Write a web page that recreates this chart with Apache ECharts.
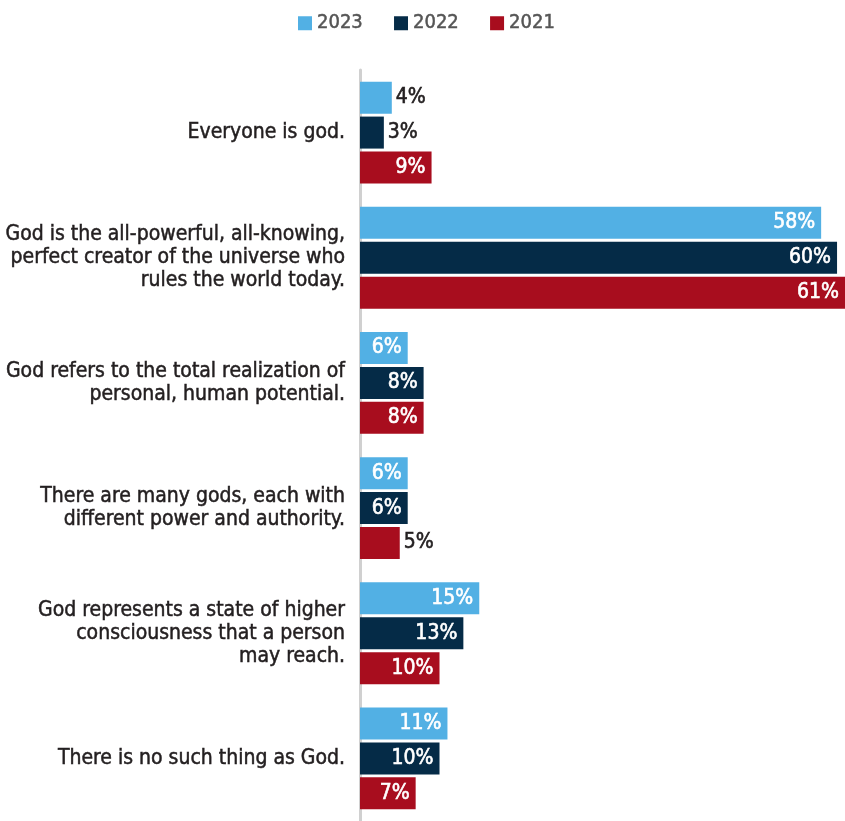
<!DOCTYPE html>
<html>
<head>
<meta charset="utf-8">
<script src="https://cdn.jsdelivr.net/npm/echarts@6/dist/echarts.min.js"></script>
<style>
  html, body { margin: 0; padding: 0; background: #fff; }
  #chart { width: 845px; height: 821px; }
</style>
</head>
<body>
<div id="chart"></div>
<script>
// Statements about God, top to bottom
const categories = [
  "Everyone is god.",
  "God is the all-powerful, all-knowing,\nperfect creator of the universe who\nrules the world today.",
  "God refers to the total realization of\npersonal, human potential.",
  "There are many gods, each with\ndifferent power and authority.",
  "God represents a state of higher\nconsciousness that a person\nmay reach.",
  "There is no such thing as God."
];
const years = ["2023", "2022", "2021"];
const values2023 = [4, 58, 6, 6, 15, 11];
const values2022 = [3, 60, 8, 6, 13, 10];
const values2021 = [9, 61, 8, 5, 10, 7];

const colors = ["#52b0e4", "#052b47", "#a80d1e"];
const FONT = "'Liberation Sans Narrow', 'DejaVu Sans Condensed', 'Liberation Sans', sans-serif";
const INK = "#231f20";

// Short bars carry their label outside in dark text; the rest inside in white
function barData(values) {
  return values.map(v => {
    const inside = v >= 6;
    const c = inside ? "#ffffff" : INK;
    return {
      value: v,
      label: {
        position: inside ? "insideRight" : "right",
        color: c,
        textBorderColor: c,
        textBorderWidth: 0.6,
        distance: inside ? 6 : 4
      }
    };
  });
}

const seriesValues = [values2023, values2022, values2021];

const chart = echarts.init(document.getElementById("chart"), null, { renderer: "canvas" });
chart.setOption({
  animation: false,
  textStyle: { fontFamily: FONT },
  legend: {
    top: 8,
    left: 293,
    itemWidth: 14,
    itemHeight: 14,
    itemGap: 31,
    icon: "rect",
    textStyle: {
      fontFamily: FONT, fontSize: 20, color: "#555555",
      textBorderColor: "#555555", textBorderWidth: 0.5
    },
    data: years
  },
  grid: { left: 360, top: 70, width: 489, height: 757, containLabel: false },
  xAxis: {
    type: "value",
    min: 0,
    max: 61,
    show: false
  },
  yAxis: {
    type: "category",
    inverse: true,
    data: categories,
    offset: 2,
    axisLine: { show: true, lineStyle: { color: "#d0d0d0", width: 3 } },
    axisTick: { show: false },
    axisLabel: {
      margin: 13,
      fontFamily: FONT,
      fontSize: 21,
      lineHeight: 23,
      color: INK,
      textBorderColor: INK,
      textBorderWidth: 0.5,
      align: "right"
    }
  },
  series: seriesValues.map((vals, i) => ({
    name: years[i],
    type: "bar",
    clip: false,
    barWidth: 32,
    barGap: "9%",
    itemStyle: { color: colors[i] },
    label: {
      show: true,
      fontFamily: FONT,
      fontSize: 21,
      formatter: "{c}%"
    },
    data: barData(vals)
  }))
});
</script>
</body>
</html>
